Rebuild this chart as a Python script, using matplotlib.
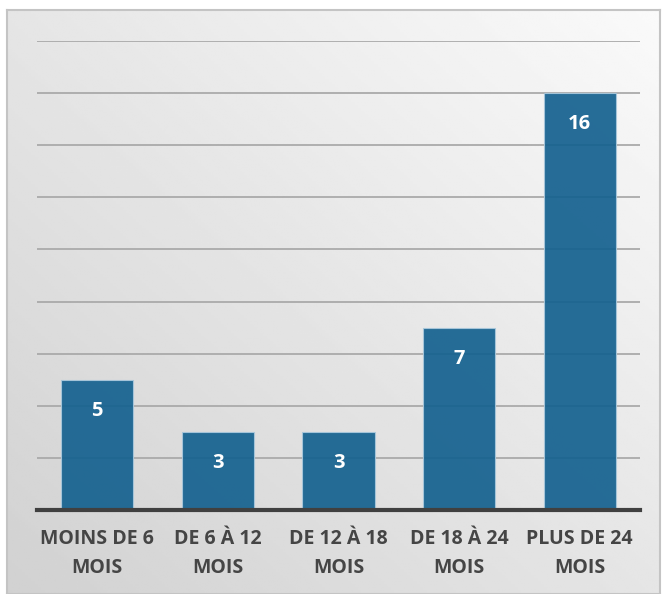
import numpy as np
import matplotlib.pyplot as plt

# données du graphique
categories = ["MOINS DE 6\nMOIS", "DE 6 À 12\nMOIS", "DE 12 À 18\nMOIS",
              "DE 18 À 24\nMOIS", "PLUS DE 24\nMOIS"]
valeurs = [5, 3, 3, 7, 16]

plt.rcParams['font.family'] = ['Open Sans', 'DejaVu Sans']

fig = plt.figure(figsize=(6.64, 5.94), dpi=100)
fig.patch.set_facecolor('white')

# fond en dégradé (clair en haut à droite, plus sombre en bas à gauche)
fond = fig.add_axes([7 / 664, 0, 653 / 664, 584 / 594])
xx, yy = np.meshgrid(np.linspace(0, 1, 200), np.linspace(0, 1, 200))
t = (xx + (1 - yy)) / 2
grad = 0.82 + 0.16 * t
fond.imshow(grad, cmap='gray', vmin=0, vmax=1, aspect='auto',
            extent=[0, 1, 0, 1], origin='upper')
fond.set_xticks([])
fond.set_yticks([])
for s in fond.spines.values():
    s.set_color('#c4c4c4')
    s.set_linewidth(1.5)

ax = fig.add_axes([37 / 664, 1 - 510 / 594, 603 / 664, (510 - 41) / 594])
ax.patch.set_alpha(0)

x = np.arange(len(categories))
ax.set_ylim(0, 18)
ax.set_xlim(-0.5, len(categories) - 0.5)
ax.set_yticks(np.arange(2, 19, 2))
ax.yaxis.grid(True, color='#aaaaaa', linewidth=1.3)
ax.set_axisbelow(True)

barres = ax.bar(x, valeurs, width=0.6, color='#14618f', alpha=0.92,
                edgecolor='#a9c8dc', linewidth=0.8, zorder=3)

for xi, v in zip(x, valeurs):
    ax.text(xi, v - 1.2, str(v), ha='center', va='center', color='white',
            fontsize=14.5, fontweight='bold', zorder=4)

ax.set_xticks(x)
ax.set_xticklabels(categories, fontsize=14, fontweight='bold',
                   color='#454545', linespacing=1.55)
ax.tick_params(axis='x', length=0, pad=14)
ax.tick_params(axis='y', length=0, labelleft=False)

for cote in ['top', 'right', 'left']:
    ax.spines[cote].set_visible(False)
ax.spines['bottom'].set_color('#404040')
ax.spines['bottom'].set_linewidth(3)
ax.spines['bottom'].set_zorder(5)

fig.savefig('out.png', dpi=100)
